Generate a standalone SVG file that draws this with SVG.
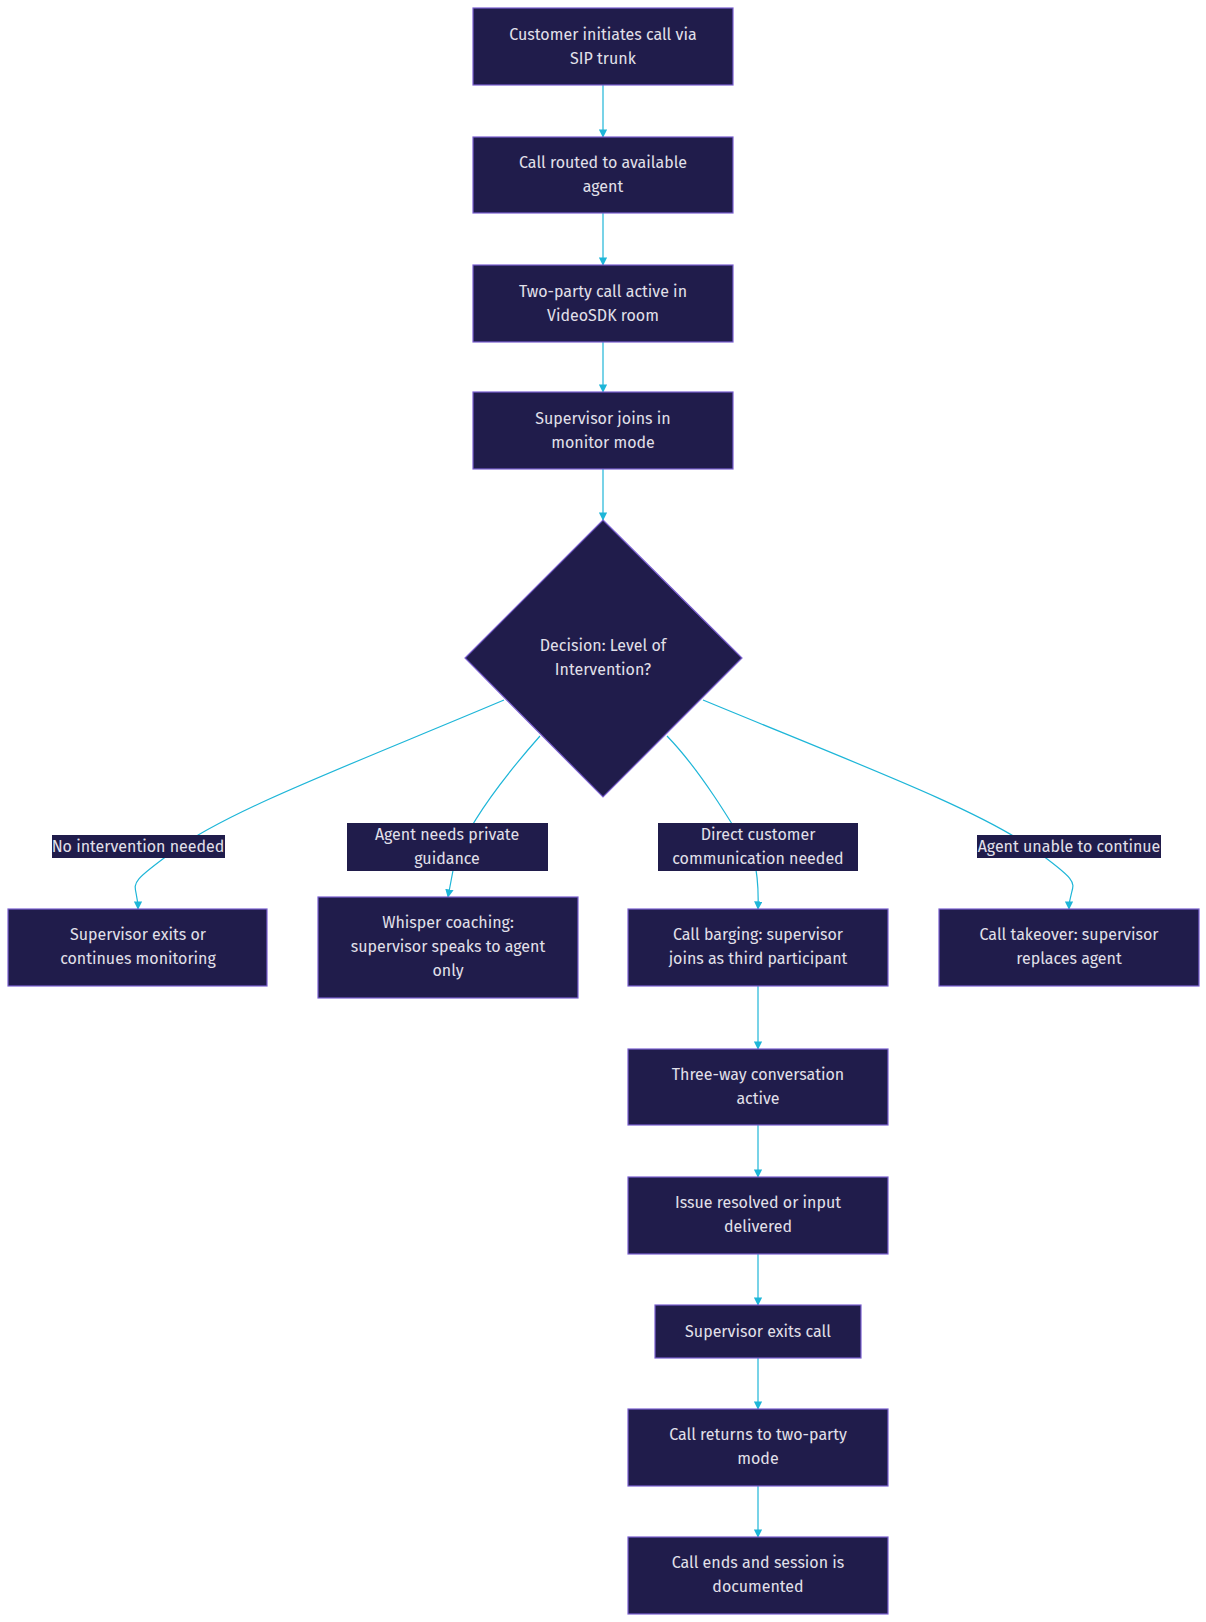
<svg xmlns="http://www.w3.org/2000/svg" width="1206" height="1622" viewBox="0 0 1206 1622">
<style>
.n rect,.n polygon{fill:#201c4b;stroke:#7a5fd0;stroke-width:1.2}
text{font-family:"Fira Sans","Open Sans","Liberation Sans",sans-serif;font-size:16px;fill:#e2e0ea;text-anchor:middle}
.e path{fill:none;stroke:#1eb6d8;stroke-width:1.2}
.l rect{fill:#201c4b}
</style>
<defs><marker id="a" viewBox="0 0 10 10" refX="9" refY="5" markerWidth="7" markerHeight="7" orient="auto"><path d="M0,0L10,5L0,10z" fill="#1eb6d8"/></marker></defs>
<rect width="1206" height="1622" fill="#fff"/>
<g class="e">
<path d="M603,85V137" marker-end="url(#a)"/>
<path d="M603,213V265" marker-end="url(#a)"/>
<path d="M603,342V392" marker-end="url(#a)"/>
<path d="M603,469V520" marker-end="url(#a)"/>
<path d="M504,700C350,765 230,810 175,850S138,880 138,909" marker-end="url(#a)"/>
<path d="M540,736C510,770 470,820 455,860L448,897" marker-end="url(#a)"/>
<path d="M667,736C700,770 730,820 754,860Q759,880 758,909" marker-end="url(#a)"/>
<path d="M703,700C860,765 980,810 1035,850S1069,880 1069,909" marker-end="url(#a)"/>
<path d="M758,986V1049" marker-end="url(#a)"/>
<path d="M758,1125V1177" marker-end="url(#a)"/>
<path d="M758,1254V1305" marker-end="url(#a)"/>
<path d="M758,1358V1409" marker-end="url(#a)"/>
<path d="M758,1486V1537" marker-end="url(#a)"/>
</g>
<g class="n" id="n1"><rect x="473" y="8" width="260" height="77"/><text x="603" y="40">Customer initiates call via</text><text x="603" y="64">SIP trunk</text></g>
<g class="n" id="n2"><rect x="473" y="137" width="260" height="76"/><text x="603" y="168">Call routed to available</text><text x="603" y="192">agent</text></g>
<g class="n" id="n3"><rect x="473" y="265" width="260" height="77"/><text x="603" y="297">Two-party call active in</text><text x="603" y="321">VideoSDK room</text></g>
<g class="n" id="n4"><rect x="473" y="392" width="260" height="77"/><text x="603" y="424">Supervisor joins in</text><text x="603" y="448">monitor mode</text></g>
<g class="n" id="d"><polygon points="603,520 742,658 603,797 465,658"/><text x="603" y="651">Decision: Level of</text><text x="603" y="675">Intervention?</text></g>
<g class="l" id="l1"><rect x="52" y="835" width="173" height="23"/><text x="138" y="852">No intervention needed</text></g>
<g class="l" id="l2"><rect x="347" y="823" width="201" height="48"/><text x="447" y="840">Agent needs private</text><text x="447" y="864">guidance</text></g>
<g class="l" id="l3"><rect x="658" y="823" width="200" height="48"/><text x="758" y="840">Direct customer</text><text x="758" y="864">communication needed</text></g>
<g class="l" id="l4"><rect x="977" y="835" width="184" height="23"/><text x="1069" y="852">Agent unable to continue</text></g>
<g class="n" id="n5"><rect x="8" y="909" width="259" height="77"/><text x="138" y="940">Supervisor exits or</text><text x="138" y="964">continues monitoring</text></g>
<g class="n" id="n6"><rect x="318" y="897" width="260" height="101"/><text x="448" y="928">Whisper coaching:</text><text x="448" y="952">supervisor speaks to agent</text><text x="448" y="976">only</text></g>
<g class="n" id="n7"><rect x="628" y="909" width="260" height="77"/><text x="758" y="940">Call barging: supervisor</text><text x="758" y="964">joins as third participant</text></g>
<g class="n" id="n8"><rect x="939" y="909" width="260" height="77"/><text x="1069" y="940">Call takeover: supervisor</text><text x="1069" y="964">replaces agent</text></g>
<g class="n" id="n9"><rect x="628" y="1049" width="260" height="76"/><text x="758" y="1080">Three-way conversation</text><text x="758" y="1104">active</text></g>
<g class="n" id="n10"><rect x="628" y="1177" width="260" height="77"/><text x="758" y="1208">Issue resolved or input</text><text x="758" y="1232">delivered</text></g>
<g class="n" id="n11"><rect x="655" y="1305" width="206" height="53"/><text x="758" y="1337">Supervisor exits call</text></g>
<g class="n" id="n12"><rect x="628" y="1409" width="260" height="77"/><text x="758" y="1440">Call returns to two-party</text><text x="758" y="1464">mode</text></g>
<g class="n" id="n13"><rect x="628" y="1537" width="260" height="77"/><text x="758" y="1568">Call ends and session is</text><text x="758" y="1592">documented</text></g>
</svg>
